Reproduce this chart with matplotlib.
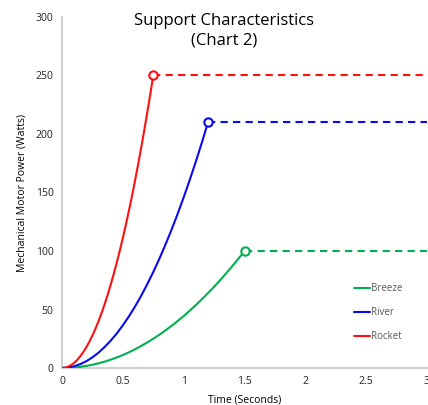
import matplotlib
matplotlib.use("Agg")
import matplotlib.pyplot as plt

# values
breeze_t = [0, 0.05, 0.1, 0.15, 0.2, 0.25, 0.3, 0.35, 0.4, 0.45, 0.5, 0.55, 0.6, 0.65, 0.7,
            0.75, 0.8, 0.85, 0.9, 0.95, 1.0, 1.05, 1.1, 1.15, 1.2, 1.25, 1.3, 1.35, 1.4, 1.45, 1.5]
breeze_p = [0, 0.1, 0.4, 1, 1.8, 2.8, 4, 5.4, 7.1, 9, 11.1, 13.4, 16, 18.8, 21.8,
            25, 28.4, 32.1, 36, 40.1, 44.4, 49, 53.8, 58.8, 64, 69.4, 75.1, 81, 87.1, 93.4, 100]

river_t = [0, 0.05, 0.1, 0.15, 0.2, 0.25, 0.3, 0.35, 0.4, 0.45, 0.5, 0.55, 0.6,
           0.65, 0.7, 0.75, 0.8, 0.85, 0.9, 0.95, 1.0, 1.05, 1.1, 1.15, 1.2]
river_p = [0, 0.4, 1.5, 3.3, 5.8, 9.1, 13.1, 17.9, 23.3, 29.5, 36.5, 44.1, 52.5,
           61.6, 71.5, 82, 93.3, 105.4, 118.1, 131.6, 145.8, 160.8, 176.4, 192.8, 210]

rocket_t = [0, 0.025, 0.05, 0.075, 0.1, 0.125, 0.15, 0.175, 0.2, 0.225, 0.25, 0.275, 0.3,
            0.325, 0.35, 0.375, 0.4, 0.425, 0.45, 0.475, 0.5, 0.525, 0.55, 0.575, 0.6,
            0.625, 0.65, 0.675, 0.7, 0.725, 0.75]
rocket_p = [0, 0.3, 1.1, 2.5, 4.4, 6.9, 10, 13.6, 17.8, 22.5, 27.8, 33.6, 40,
            46.9, 54.4, 62.5, 71.1, 80.3, 90, 100.3, 111.1, 122.5, 134.4, 146.9, 160,
            173.6, 187.8, 202.5, 217.8, 233.6, 250]

t_end = 3
x_ticks = [0, 0.5, 1, 1.5, 2, 2.5, 3]
x_labels = ["0", "0.5", "1", "1.5", "2", "2.5", "3"]
y_ticks = [0, 50, 100, 150, 200, 250, 300]

plt.rcParams['font.family'] = ['Open Sans', 'DejaVu Sans']

fig = plt.figure(figsize=(4.28, 4.05), dpi=100)
ax = fig.add_axes([62 / 428, 37 / 405, 365 / 428, 351 / 405])

series = [
    ("Breeze", breeze_t, breeze_p, "#00b050"),
    ("River", river_t, river_p, "#0a0aee"),
    ("Rocket", rocket_t, rocket_p, "#ff1010"),
]

for name, t, p, col in series:
    ax.plot(t, p, color=col, lw=1.5, label=name, solid_capstyle='round', zorder=3)
    # plateau after the curve ends
    ax.plot([t[-1], t_end], [p[-1], p[-1]], color=col, lw=1.5,
            linestyle=(0, (3.5, 2.5)), zorder=2)
    ax.plot([t[-1]], [p[-1]], marker='o', ms=6, mfc='white', mec=col, mew=1.5,
            linestyle='none', zorder=4)

ax.set_xlim(0, 3)
ax.set_ylim(0, 300)
ax.set_xticks(x_ticks)
ax.set_xticklabels(x_labels)
ax.set_yticks(y_ticks)
ax.tick_params(length=0, labelsize=7.5, colors='#222222', pad=6)

for s in ['top', 'right']:
    ax.spines[s].set_visible(False)
for s in ['left', 'bottom']:
    ax.spines[s].set_color('#d0d0d0')
    ax.spines[s].set_linewidth(1.5)

ax.set_xlabel("Time (Seconds)", fontsize=7.5, labelpad=5)
ax.set_ylabel("Mechanical Motor Power (Watts)", fontsize=7.5, labelpad=6)

fig.text(224 / 428, 1 - 31 / 405, "Support Characteristics\n(Chart 2)",
         ha='center', va='center', fontsize=12, linespacing=1.3)

leg = ax.legend(loc='upper left', bbox_to_anchor=(292 / 365, 1 - (287 - 17 - 4) / 351),
                frameon=False, fontsize=7, handlelength=1.6, handletextpad=0.15,
                labelspacing=1.35, borderpad=0, borderaxespad=0)
for txt in leg.get_texts():
    txt.set_color('#595959')

fig.savefig("out.png", dpi=100)
